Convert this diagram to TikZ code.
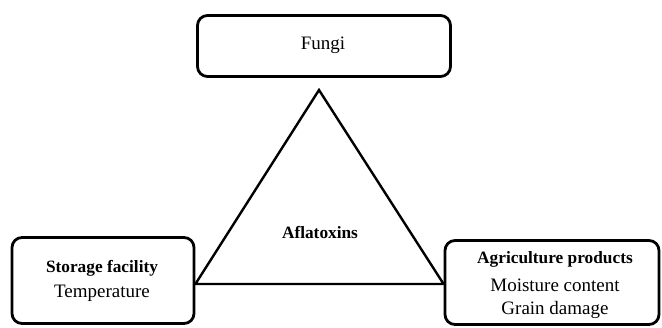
\documentclass[tikz,border=0pt]{standalone}
\usepackage{fontspec}
\setmainfont{Liberation Serif}
\newfontfamily\tnr{Liberation Serif}
\begin{document}
\begin{tikzpicture}[x=1pt,y=-1pt,
  box/.style={draw,line width=2.8pt,rounded corners=10pt,inner sep=0pt,align=center},
  reg/.style={font=\tnr\fontsize{19}{25}\selectfont},
  bld/.style={font=\tnr\fontsize{17.3}{25}\selectfont\bfseries}]
\useasboundingbox (0,0) rectangle (662,327);
\node[box,minimum width=253pt,minimum height=61pt] (fungi) at (324,46) {};
\node[reg] (ft) at (323,45) {Fungi};
\node[box,minimum width=182pt,minimum height=86pt] (store) at (103,280.5) {};
\node[bld] (st1) at (102,268) {Storage facility};
\node[reg] (st2) at (102,293) {Temperature};
\node[box,minimum width=214pt,minimum height=84pt] (agri) at (552,282.5) {};
\node[bld] (ag1) at (555,259) {Agriculture products};
\node[reg] (ag2) at (555,285) {Moisture content};
\node[reg] (ag3) at (555,310) {Grain damage};
\coordinate (apex) at (319,90);
\coordinate (bl) at (store.east |- 0,284);
\coordinate (br) at (agri.west |- 0,284);
\draw[line width=2.4pt,line join=miter] (apex) -- (bl) -- (br) -- cycle;
\node[bld] (afl) at (320,232) {Aflatoxins};
\end{tikzpicture}
\end{document}
